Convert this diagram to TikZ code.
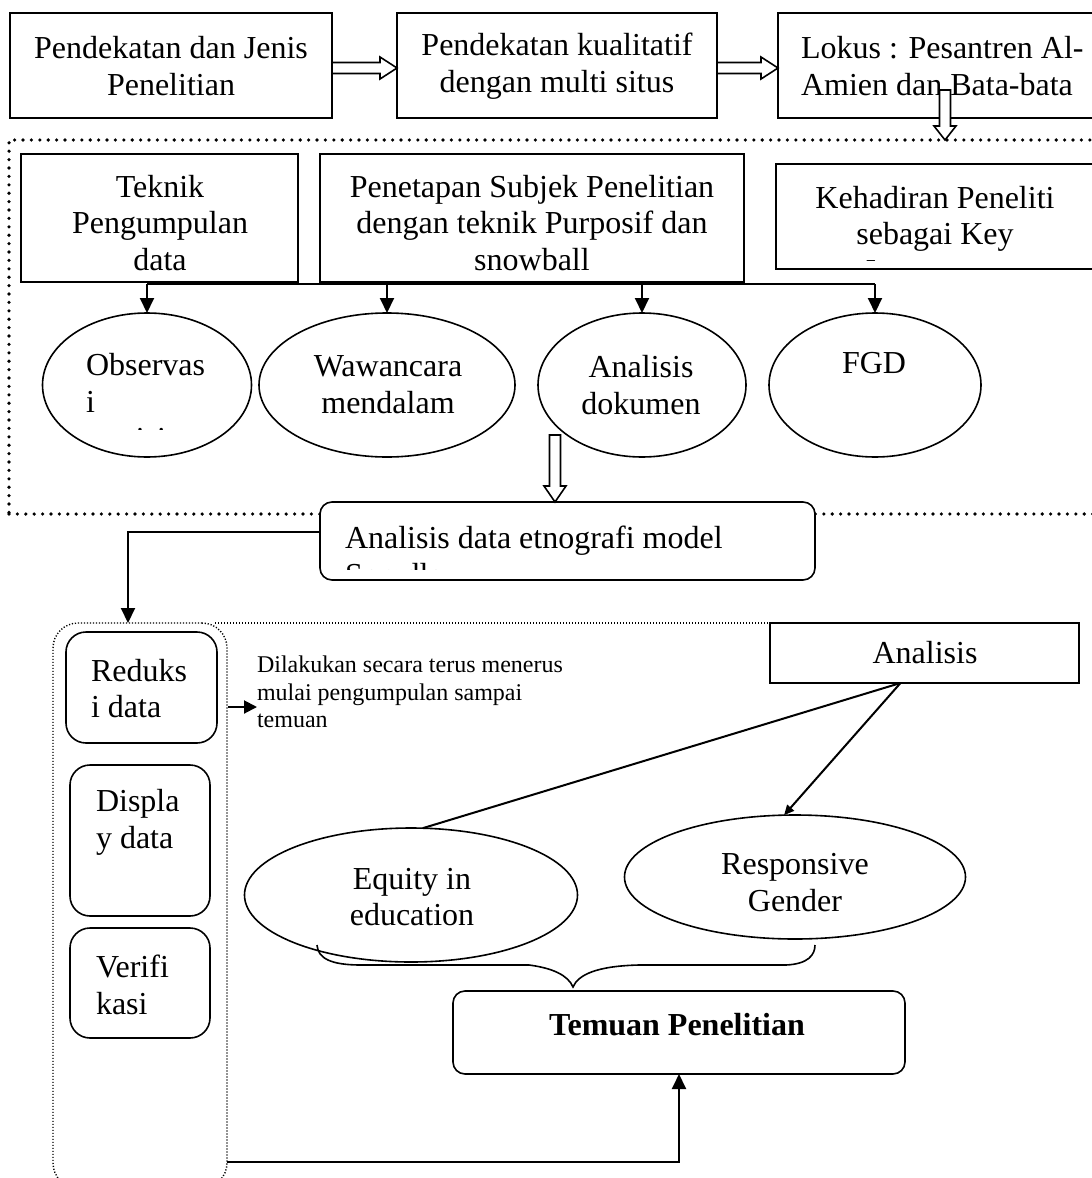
\documentclass[tikz,border=0pt]{standalone}
\usepackage{fontspec}
\setmainfont{Liberation Serif}
\usetikzlibrary{arrows.meta,calc,fit,shapes.geometric}

\newcommand{\hblock}[2]{%
  \draw[hollow] ($(#1)+(0,-5.5)$) -- ($(#2)+(-17,-5.5)$) -- ($(#2)+(-17,-11)$) -- (#2) -- ($(#2)+(-17,11)$) -- ($(#2)+(-17,5.5)$) -- ($(#1)+(0,5.5)$) -- cycle;}
\newcommand{\vblock}[3]{%
  \draw[hollow] ($(#1)+(-5.5,0)$) -- ($(#2)+(-5.5,-#3)$) -- ($(#2)+(-11,-#3)$) -- (#2) -- ($(#2)+(11,-#3)$) -- ($(#2)+(5.5,-#3)$) -- ($(#1)+(5.5,0)$) -- cycle;}

\begin{document}
\begin{tikzpicture}[x=0.5pt,y=-0.5pt,
  every node/.style={inner sep=0pt, outer sep=0pt},
  big/.style={font=\fontsize{16}{18.4}\selectfont},
  sm/.style={font=\fontsize{12}{13.8}\selectfont},
  txt/.style={big, align=center},
  ltxt/.style={big, align=left, anchor=west},
  sq/.style={draw, line width=1pt, fill=white},
  rbox/.style={draw, line width=0.8pt, fill=white, rounded corners=6pt},
  ell/.style={draw, ellipse, line width=0.8pt, fill=white},
  bigdots/.style={line width=1.8pt, line cap=round, dash pattern=on 0pt off 4.2pt},
  smalldots/.style={line width=0.7pt, dash pattern=on 0.6pt off 0.9pt},
  arr/.style={line width=1pt, -{Triangle[length=7.5pt,width=7pt]}},
  hollow/.style={draw, fill=white, line width=0.8pt, line join=miter}]

\useasboundingbox (0,0) rectangle (1092,1178);
\clip (0,0) rectangle (1092,1178);

% dotted frames
\node[draw, bigdots, fit={(9,140) (1110,514)}] (frame) {};
\node[draw, smalldots, rounded corners=12.5pt, fit={(53,623) (227,1188)}] (lowcol) {};

% top row
\node[sq, fit={(10,13) (332,118)}] (A) {};
\node[txt] (At) at (171,66) {Pendekatan dan Jenis\\Penelitian};
\node[sq, fit={(397,13) (717,118)}] (B) {};
\node[txt] (Bt) at (557,66) {Pendekatan kualitatif\\dengan multi situs};
\node[sq, fit={(778,13) (1100,118)}] (C) {};
\node[ltxt] (Ct) at (801,66) {Lokus : Pesantren Al-\\Amien dan Bata-bata};

\coordinate (ab1) at ($(A.east)+(0,2.5)$);
\coordinate (ab2) at (ab1 -| B.west);
\hblock{ab1}{ab2}
\coordinate (bc1) at ($(B.east)+(0,2.5)$);
\coordinate (bc2) at (bc1 -| C.west);
\hblock{bc1}{bc2}
\coordinate (lk1) at ($(C.south)+(6,-28)$);
\coordinate (lk2) at (lk1 |- frame.north);
\vblock{lk1}{lk2}{14}

% second row
\node[sq, fit={(21,154) (298,282)}] (tek) {};
\node[txt] (tekt) at (160,223) {Teknik\\Pengumpulan\\data};
\node[sq, fit={(320,154) (744,282)}] (pen) {};
\node[txt] (pent) at (532,223) {Penetapan Subjek Penelitian\\dengan teknik Purposif dan\\snowball};
\node[sq, fit={(776,164) (1100,269)}] (keh) {};
\begin{scope}
  \clip (776,164) rectangle (1100,260.5);
  \node[txt] (keht) at (935,234) {Kehadiran Peneliti\\sebagai Key\\Instrument};
\end{scope}

% ellipses
\node[ell, minimum width=104.5pt, minimum height=72pt] (obs) at (147,385) {};
\node[ell, minimum width=128pt, minimum height=72pt] (waw) at (387,385) {};
\node[ell, minimum width=104pt, minimum height=72pt] (adok) at (642,385) {};
\node[ell, minimum width=106pt, minimum height=72pt] (fgd) at (875,385) {};
\begin{scope}
  \clip (40,320) rectangle (260,429);
  \node[ltxt] (obst) at (86,404.5) {Observas\\i\\partisipan};
\end{scope}
\node[txt] (wawt) at (388,385) {Wawancara\\mendalam};
\node[txt] (adokt) at (641,385) {Analisis\\dokumen};
\node[txt] (fgdt) at (874,363) {FGD};

\coordinate (bar) at ($(tek.south)+(0,2)$);
\draw[line width=1.4pt] (bar -| obs.north) -- (bar -| fgd.north);
\foreach \e in {obs,waw,adok,fgd} \draw[arr] (bar -| \e.north) -- (\e.north);

% etnografi
\node[rbox, fit={(320,502) (815,580)}] (etno) {};
\begin{scope}
  \clip (320,502) rectangle (815,569);
  \node[ltxt] (etnot) at (345,559) {Analisis data etnografi model\\Spradley};
\end{scope}
\coordinate (ad1) at ($(adok.south)+(-87,-22)$);
\coordinate (ad2) at (ad1 |- etno.north);
\vblock{ad1}{ad2}{16}

\coordinate (etL) at ($(etno.north west)!0.38!(etno.south west)$);
\coordinate (lowtip) at ($(lowcol.north)+(-12,0)$);
\draw[arr] (etL) -| (lowtip);

% lower part
\node[sq, fit={(770,623) (1079,683)}] (anal) {};
\node[big] (analt) at (925,653) {Analisis};
\draw[smalldots] ($(lowcol.north east)+(-12,0)$) -- (anal.north west);

\node[rbox, rounded corners=10pt, fit={(66,632) (217,743)}] (red) {};
\node[ltxt] (redt) at (91,688.5) {Reduks\\i data};
\node[rbox, rounded corners=10pt, fit={(70,765) (210,916)}] (disp) {};
\node[ltxt] (dispt) at (96,822) {Displa\\y data};
\node[rbox, rounded corners=10pt, fit={(70,928) (210,1038)}] (ver) {};
\node[ltxt] (vert) at (96,985) {Verifi\\kasi};

\node[sm, align=left, anchor=west] (note) at (257,692) {Dilakukan secara terus menerus\\mulai pengumpulan sampai\\temuan};
\coordinate (redA0) at (lowcol.east |- red.east);
\coordinate (redA) at ($(redA0)+(1,19.5)$);
\draw[line width=1pt, -{Triangle[length=6.5pt,width=6.5pt]}] (redA) -- (redA -| note.west);

\node[ell, minimum width=166.5pt, minimum height=67pt] (eq) at (411,895) {};
\node[txt] (eqt) at (412,897) {Equity in\\education};
\node[ell, minimum width=170.5pt, minimum height=62pt] (resp) at (795,877) {};
\node[txt] (respt) at (795,882.5) {Responsive\\Gender};

\coordinate (anaF) at ($(anal.south)+(-24,0)$);
\draw[line width=1pt] (anaF) -- (eq.80);
\draw[line width=1pt, -{Triangle[length=5pt,width=4.5pt]}] (anaF) -- (resp.100);

% brace
\draw[line width=0.8pt] (317,945) .. controls (318,958) and (330,965) .. (361,965)
  -- (529,965) .. controls (552,968) and (568,975) .. (573,987)
  .. controls (578,975) and (596,966) .. (639,965)
  -- (786,965) .. controls (808,964) and (815,955) .. (815,945);

\node[rbox, fit={(453,991) (905,1074)}] (tem) {};
\node[big] (temt) at (677,1025) {\textbf{Temuan Penelitian}};

\coordinate (botL) at ($(lowcol.south east)+(0,-26)$);
\draw[arr] (botL) -| (tem.south);

\end{tikzpicture}
\end{document}
